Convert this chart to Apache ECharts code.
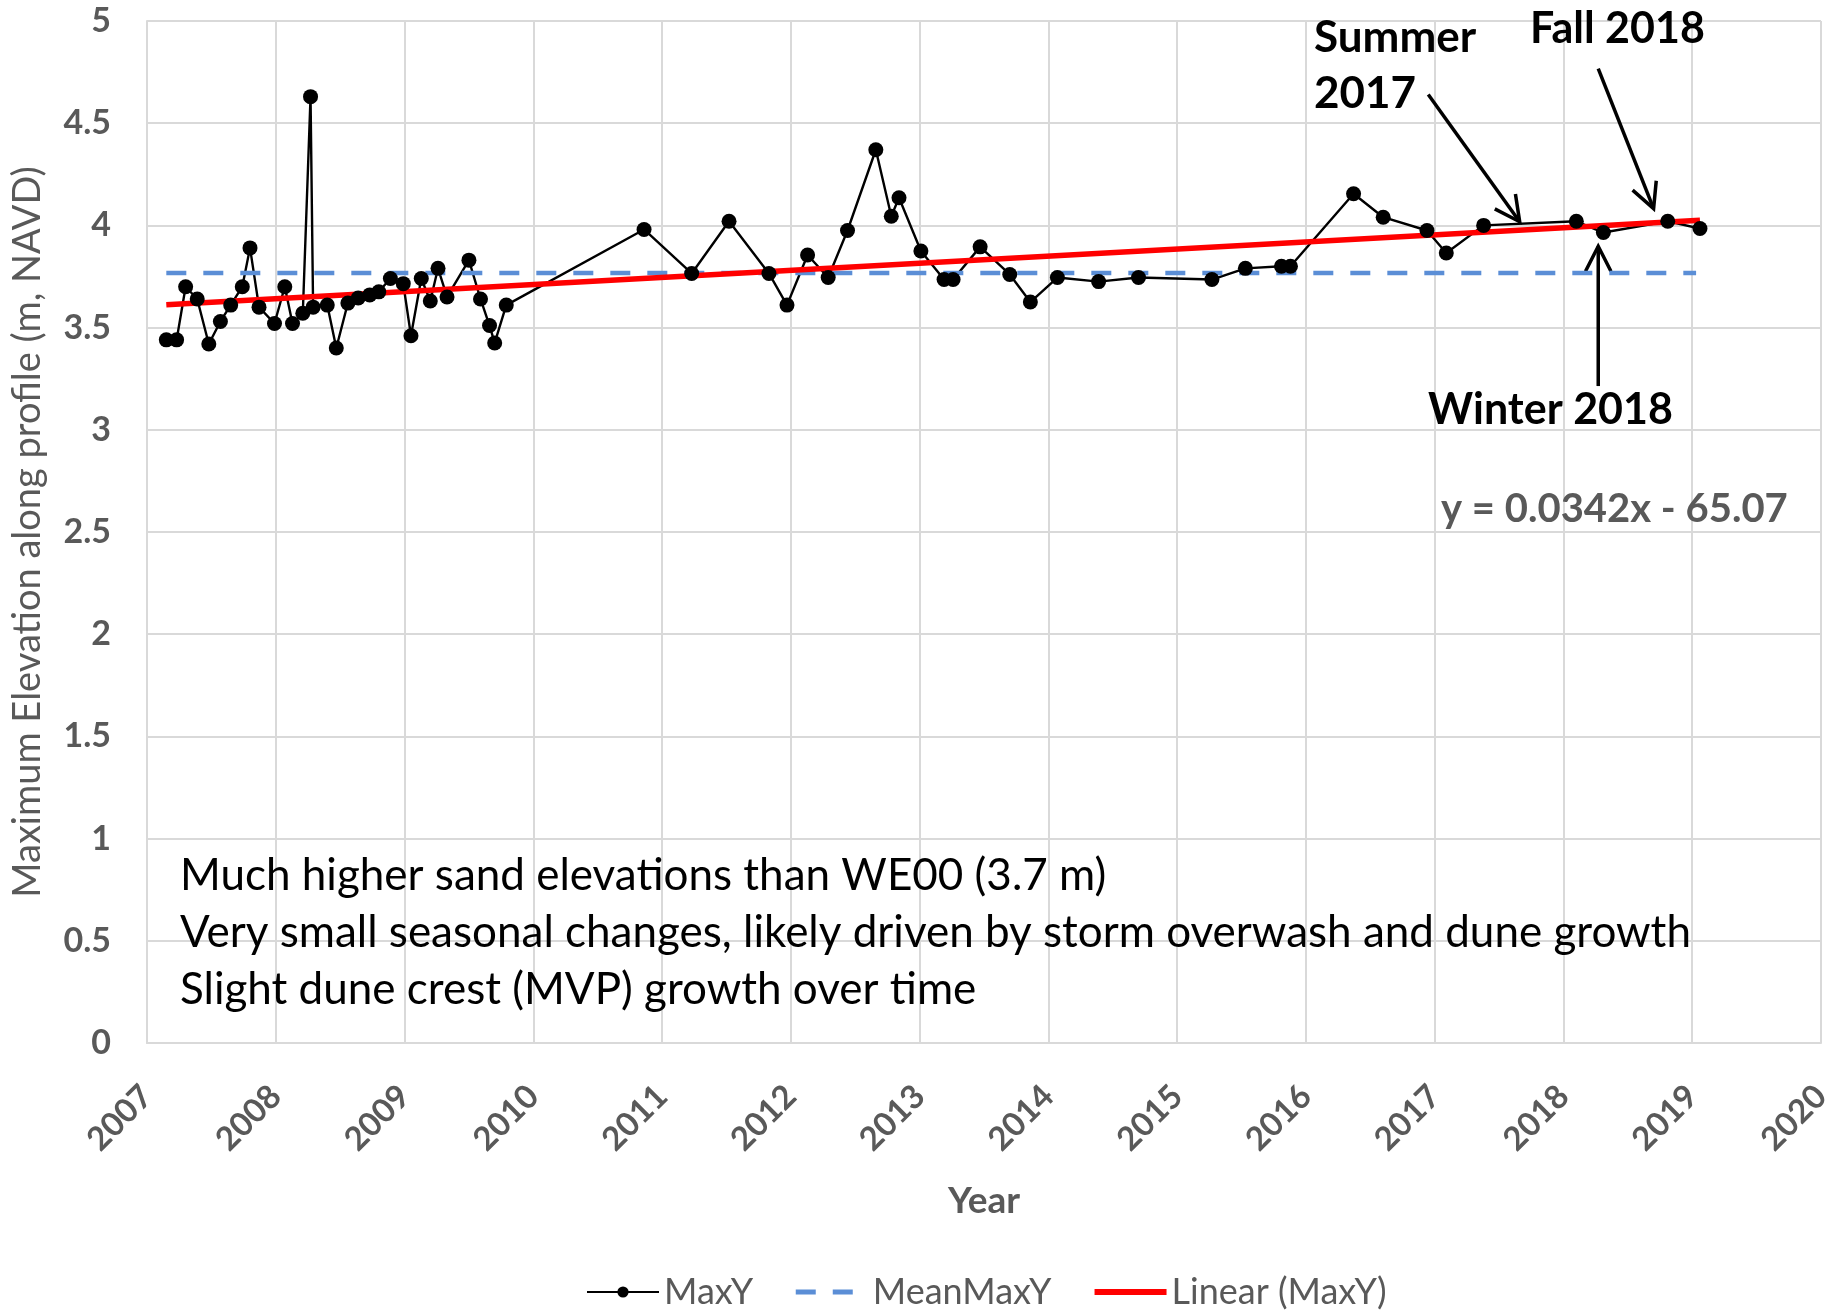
<!DOCTYPE html>
<html>
<head>
<meta charset="utf-8">
<script src="https://cdn.jsdelivr.net/npm/echarts@6/dist/echarts.min.js"></script>
<style>
  html, body { margin: 0; background: #fff; }
  #chart { width: 1843px; height: 1310px; }
</style>
</head>
<body>
<div id="chart"></div>
<script>
// survey dates (decimal year) and max elevation
const surveyYears = [
  2007.15, 2007.23, 2007.30, 2007.39, 2007.48, 2007.57, 2007.65, 2007.74, 2007.80, 2007.87,
  2007.99, 2008.07, 2008.13, 2008.21, 2008.27, 2008.29, 2008.40, 2008.47, 2008.56, 2008.64,
  2008.73, 2008.80, 2008.89, 2008.99, 2009.05, 2009.13, 2009.20, 2009.26, 2009.33, 2009.50,
  2009.59, 2009.66, 2009.70, 2009.79, 2010.86, 2011.23, 2011.52, 2011.83, 2011.97, 2012.13,
  2012.29, 2012.44, 2012.66, 2012.78, 2012.84, 2013.01, 2013.19, 2013.26, 2013.47, 2013.70,
  2013.86, 2014.07, 2014.39, 2014.70, 2015.27, 2015.53, 2015.81, 2015.88, 2016.37, 2016.60,
  2016.94, 2017.09, 2017.38, 2018.10, 2018.31, 2018.81, 2019.06
]
const maxY = [
  3.44, 3.44, 3.70, 3.64, 3.42, 3.53, 3.61, 3.70, 3.89, 3.60,
  3.52, 3.70, 3.52, 3.57, 4.63, 3.60, 3.61, 3.40, 3.62, 3.645,
  3.66, 3.675, 3.74, 3.715, 3.46, 3.74, 3.63, 3.79, 3.65, 3.83,
  3.64, 3.51, 3.425, 3.61, 3.98, 3.765, 4.02, 3.765, 3.61, 3.855,
  3.745, 3.975, 4.37, 4.045, 4.135, 3.875, 3.735, 3.735, 3.895, 3.76,
  3.625, 3.745, 3.725, 3.745, 3.735, 3.79, 3.80, 3.80, 4.155, 4.04,
  3.975, 3.865, 4.00, 4.02, 3.965, 4.02, 3.985
]

// MeanMaxY and the Excel linear trendline, as drawn
const meanYears = [2007.15, 2019.03]
const meanValues = [3.767, 3.767]
const trendYears = [2007.15, 2019.06]
const trendValues = [3.612, 4.025]

// callout arrows: tail -> tip, in data units
const arrowTails = [[2016.95, 4.64], [2018.27, 4.767], [2018.27, 3.214]]
const arrowTips = [[2017.66, 4.018], [2018.70, 4.082], [2018.27, 3.898]]

const notes = [
  'Much higher sand elevations than WE00 (3.7 m)',
  'Very small seasonal changes, likely driven by storm overwash and dune growth',
  'Slight dune crest (MVP) growth over time'
]

const FONT = 'Lato, "Open Sans", sans-serif'
const GREY = '#595959'
const GRID = '#d9d9d9'
const BLUE = '#5B8ED6'

const pairs = (xs, ys) => xs.map((x, i) => [x, ys[i]])

const chart = echarts.init(document.getElementById('chart'))

const option = {
  animation: false,
  backgroundColor: '#fff',
  textStyle: { fontFamily: FONT },
  grid: { left: 147, right: 22, top: 21, bottom: 267 },
  xAxis: {
    type: 'value',
    min: 2007,
    max: 2020,
    interval: 1,
    name: 'Year',
    nameLocation: 'middle',
    nameGap: 140,
    nameTextStyle: { color: GREY, fontSize: 37, fontWeight: 'bold', fontFamily: FONT },
    axisLine: { show: true, lineStyle: { color: GRID, width: 2 } },
    axisTick: { show: false },
    axisLabel: {
      rotate: 45,
      margin: 48,
      color: GREY,
      fontSize: 33,
      fontWeight: 'bold',
      fontFamily: FONT,
      formatter: v => String(v)
    },
    splitLine: { show: true, lineStyle: { color: GRID, width: 2 } }
  },
  yAxis: {
    type: 'value',
    min: 0,
    max: 5,
    interval: 0.5,
    name: 'Maximum Elevation along profile (m, NAVD)',
    nameLocation: 'middle',
    nameGap: 100,
    nameTextStyle: { color: GREY, fontSize: 38, fontFamily: FONT },
    axisLine: { show: true, lineStyle: { color: GRID, width: 2 } },
    axisTick: { show: false },
    axisLabel: { margin: 36, color: GREY, fontSize: 34, fontWeight: 'bold', fontFamily: FONT },
    splitLine: { show: true, lineStyle: { color: GRID, width: 2 } }
  },
  legend: {
    data: [
      { name: 'MaxY' },
      { name: 'MeanMaxY', itemStyle: { opacity: 0 }, lineStyle: { width: 5, type: [20, 17] } },
      { name: 'Linear (MaxY)', itemStyle: { opacity: 0 }, lineStyle: { width: 6 } }
    ],
    left: 581,
    top: 1269,
    itemWidth: 72,
    itemHeight: 14,
    itemGap: 40,
    textStyle: { color: GREY, fontSize: 36, fontFamily: FONT }
  },
  series: [
    {
      name: 'MaxY',
      type: 'line',
      data: pairs(surveyYears, maxY),
      symbol: 'circle',
      symbolSize: 15,
      itemStyle: { color: '#000' },
      lineStyle: { color: '#000', width: 2.4 }
    },
    {
      name: 'MeanMaxY',
      type: 'line',
      data: pairs(meanYears, meanValues),
      symbol: 'none',
      lineStyle: { color: BLUE, width: 4.5, type: [20, 17] },
      itemStyle: { color: BLUE }
    },
    {
      name: 'Linear (MaxY)',
      type: 'line',
      data: pairs(trendYears, trendValues),
      symbol: 'none',
      lineStyle: { color: '#ff0000', width: 5.5 },
      itemStyle: { color: '#ff0000' }
    }
  ]
}

chart.setOption(option)

// text boxes
const graphics = []
notes.forEach((t, i) => {
  graphics.push({
    type: 'text', x: 180, y: 876 + i * 57,
    style: { text: t, font: '44px ' + FONT, fill: '#000', verticalAlign: 'middle' }
  })
})
const boldText = (text, x, y, size, fill, lh) => ({
  type: 'text', x: x, y: y,
  style: { text: text, font: 'bold ' + size + 'px ' + FONT, fill: fill, verticalAlign: 'middle', lineHeight: lh || size * 1.2 }
})
graphics.push(boldText('Summer\n2017', 1314, 66, 44, '#000', 56))
graphics.push(boldText('Fall 2018', 1530, 29, 43, '#000'))
graphics.push(boldText('Winter 2018', 1428, 410, 43, '#000'))
graphics.push(boldText('y = 0.0342x - 65.07', 1441, 509, 40, GREY))

// arrows, placed through the chart's own scales
arrowTails.forEach((tail, i) => {
  const a = chart.convertToPixel({ gridIndex: 0 }, tail)
  const b = chart.convertToPixel({ gridIndex: 0 }, arrowTips[i])
  const ang = Math.atan2(b[1] - a[1], b[0] - a[0])
  const len = 28, spread = 27 * Math.PI / 180
  const arm = s => [b[0] - len * Math.cos(ang + s), b[1] - len * Math.sin(ang + s)]
  graphics.push({ type: 'line', shape: { x1: a[0], y1: a[1], x2: b[0], y2: b[1] }, style: { stroke: '#000', lineWidth: 3.5 } })
  graphics.push({ type: 'polyline', shape: { points: [arm(spread), b, arm(-spread)] }, style: { stroke: '#000', lineWidth: 3.5, fill: null } })
})

chart.setOption({ graphic: graphics })
</script>
</body>
</html>
